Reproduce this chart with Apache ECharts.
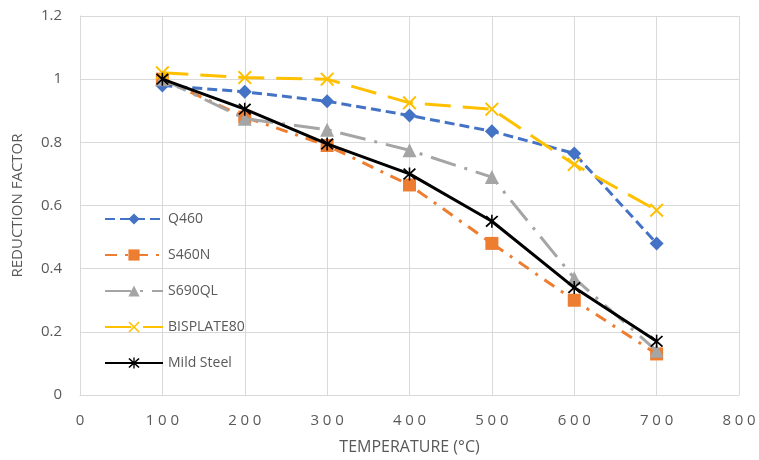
<!DOCTYPE html>
<html>
<head>
<meta charset="utf-8">
<script src="https://cdn.jsdelivr.net/npm/echarts@6/dist/echarts.min.js"></script>
<style>
  html, body { margin: 0; padding: 0; background: #fff; }
  #chart { width: 759px; height: 460px; }
</style>
</head>
<body>
<div id="chart"></div>
<script>
// Temperatures (°C) at which reduction factors were measured
const temperatures = [100, 200, 300, 400, 500, 600, 700];

// Reduction factor per steel grade
const q460 = [0.98, 0.96, 0.93, 0.885, 0.835, 0.765, 0.48];
const s460n = [1.0, 0.88, 0.79, 0.665, 0.48, 0.30, 0.13];
const s690ql = [1.0, 0.875, 0.84, 0.775, 0.69, 0.37, 0.14];
const bisplate80 = [1.02, 1.005, 1.0, 0.925, 0.905, 0.73, 0.585];
const mildSteel = [1.0, 0.905, 0.795, 0.70, 0.55, 0.34, 0.17];

const seriesNames = ['Q460', 'S460N', 'S690QL', 'BISPLATE80', 'Mild Steel'];

// Filled cross and asterisk marker shapes
const crossPath = 'path://M0,1L1,0L5,4L9,0L10,1L6,5L10,9L9,10L5,6L1,10L0,9L4,5Z';
const starPath = 'path://M0,1L1,0L5,4L9,0L10,1L6,5L10,9L9,10L5,6L1,10L0,9L4,5Z M4.4,-0.5L5.6,-0.5L5.6,10.5L4.4,10.5Z';

function pairs(values) {
  return temperatures.map((t, i) => [t, values[i]]);
}

// Spread digits of the temperature ticks a little apart
function spaced(v) {
  return String(v).split('').join('\u2005');
}

const styles = [
  { data: q460, color: '#4472C4', dash: [10, 5], symbol: 'diamond', size: 14 },
  { data: s460n, color: '#ED7D31', dash: [12, 8, 3, 8], symbol: 'rect', size: 13 },
  { data: s690ql, color: '#A5A5A5', dash: [26, 9, 3, 9], symbol: 'triangle', size: 14 },
  { data: bisplate80, color: '#FFC000', dash: [26, 12], symbol: crossPath, size: 14 },
  { data: mildSteel, color: '#000000', dash: 'solid', symbol: starPath, size: 13 }
];

const chart = echarts.init(document.getElementById('chart'));

chart.setOption({
  animation: false,
  textStyle: { fontFamily: 'Open Sans, Liberation Sans, sans-serif' },
  grid: { left: 80, right: 20, top: 16, bottom: 65, outerBoundsMode: 'none', containLabel: false },
  legend: {
    orient: 'vertical',
    left: 99,
    top: 207,
    itemWidth: 58,
    itemHeight: 14,
    itemGap: 22,
    data: seriesNames,
    textStyle: { color: '#595959', fontSize: 14 }
  },
  xAxis: {
    type: 'value',
    min: 0,
    max: 800,
    interval: 100,
    name: 'TEMPERATURE (°C)',
    nameLocation: 'middle',
    nameGap: 44,
    nameTextStyle: { color: '#595959', fontSize: 16 },
    axisLine: { show: true, lineStyle: { color: '#D9D9D9' } },
    axisTick: { show: false },
    axisLabel: { color: '#595959', fontSize: 15, margin: 18, formatter: spaced },
    splitLine: { show: true, lineStyle: { color: '#D9D9D9', width: 1 } }
  },
  yAxis: {
    type: 'value',
    min: 0,
    max: 1.2,
    interval: 0.2,
    name: 'REDUCTION FACTOR',
    nameLocation: 'middle',
    nameGap: 55,
    nameTextStyle: { color: '#595959', fontSize: 15 },
    axisLine: { show: true, lineStyle: { color: '#D9D9D9' } },
    axisTick: { show: false },
    axisLabel: {
      color: '#595959',
      fontSize: 15,
      margin: 18,
      formatter: v => String(Math.round(v * 10) / 10)
    },
    splitLine: { show: true, lineStyle: { color: '#D9D9D9', width: 1 } }
  },
  series: styles.map((s, i) => ({
    name: seriesNames[i],
    type: 'line',
    data: pairs(s.data),
    symbol: s.symbol,
    symbolSize: s.size,
    showAllSymbol: true,
    z: 2 + i,
    lineStyle: { color: s.color, width: 3, type: s.dash },
    itemStyle: { color: s.color, borderWidth: 0 }
  }))
});
</script>
</body>
</html>
